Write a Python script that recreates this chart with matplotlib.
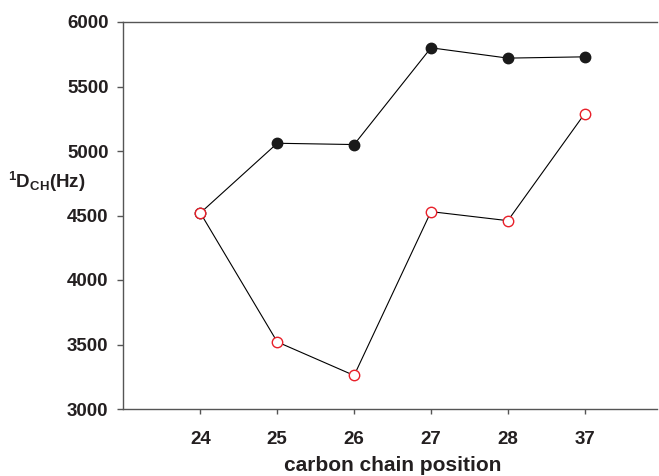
import numpy as np
import matplotlib
matplotlib.use('Agg')
import matplotlib.pyplot as plt

plt.rcParams['font.family'] = ['Liberation Sans', 'DejaVu Sans']
plt.rcParams['font.weight'] = 'bold'
plt.rcParams['mathtext.fontset'] = 'custom'
plt.rcParams['mathtext.bf'] = 'Liberation Sans:bold'
plt.rcParams['mathtext.rm'] = 'Liberation Sans:bold'

# Daten
positions = ['24', '25', '26', '27', '28', '37']
filled_vals = [4520, 5060, 5050, 5800, 5720, 5730]
open_vals = [4520, 3520, 3260, 4530, 4460, 5290]

x = np.arange(1, len(positions) + 1)
textcol = '#231f20'

fig = plt.figure(figsize=(6.59, 4.76), dpi=100)
ax = fig.add_axes([123.5 / 659, 1 - 409 / 476, (657 - 123.5) / 659, (409 - 22) / 476])

ax.plot(x, filled_vals, color='black', lw=0.8, marker='o', ms=7.5,
        mfc='#1a1a1a', mec='#1a1a1a', zorder=2)
ax.plot(x, open_vals, color='black', lw=0.8, marker='o', ms=7.5,
        mfc='white', mec='#e8202a', mew=1.0, zorder=3)

ax.set_xlim(0, 6.94)
ax.set_ylim(3000, 6000)
ax.set_xticks(x)
ax.set_xticklabels(positions)
ax.set_yticks(np.arange(3000, 6001, 500))

for s in ['left', 'bottom', 'top']:
    ax.spines[s].set_color('#555555')
    ax.spines[s].set_linewidth(1.0)
ax.spines['right'].set_visible(False)

ax.tick_params(axis='x', direction='out', length=3.6, width=1, color='#555555',
               pad=12, labelsize=13.5, labelcolor=textcol)
ax.tick_params(axis='y', direction='out', length=4.3, width=1, color='#555555',
               pad=6.5, labelsize=13.5, labelcolor=textcol)
for lab in ax.get_xticklabels() + ax.get_yticklabels():
    lab.set_fontweight('bold')

# x-Beschriftung
fig.text(393 / 659, 1 - 471 / 476, 'carbon chain position', fontsize=15,
         fontweight='bold', color=textcol, ha='center', va='baseline')

# y-Beschriftung horizontal
fig.text(8 / 659, 1 - 188 / 476, r'$\mathbf{^{1}D_{CH}}$(Hz)', fontsize=13.5,
         fontweight='bold', color=textcol, ha='left', va='baseline')

fig.savefig('out.png', dpi=100)
